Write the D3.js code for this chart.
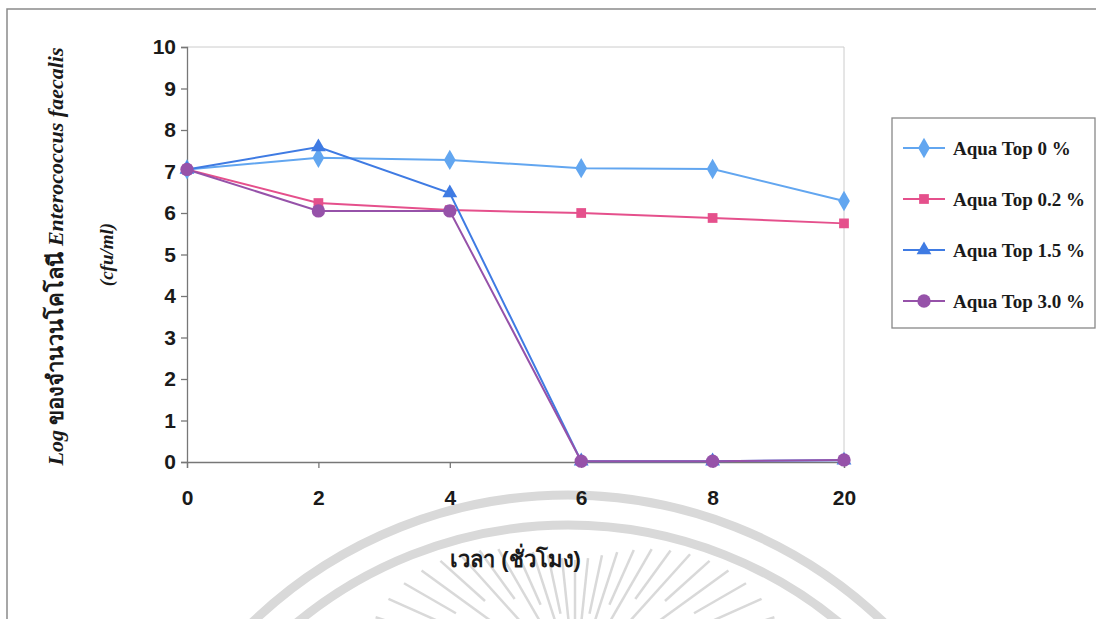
<!DOCTYPE html>
<html>
<head>
<meta charset="utf-8">
<script src="https://cdn.jsdelivr.net/npm/d3@7"></script>
<style>
  body { margin: 0; background: #fff; }
  svg { display: block; }
</style>
</head>
<body>
<svg id="chart" width="1103" height="619"></svg>
<script>
// data
var hours = ["0", "2", "4", "6", "8", "20"];
var top0 = [7.05, 7.33, 7.28, 7.08, 7.06, 6.29];
var top02 = [7.05, 6.24, 6.07, 6.0, 5.88, 5.75];
var top15 = [7.05, 7.59, 6.48, 0.02, 0.02, 0.04];
var top30 = [7.05, 6.05, 6.05, 0.02, 0.02, 0.05];
var seriesNames = ["Aqua Top 0 %", "Aqua Top 0.2 %", "Aqua Top 1.5 %", "Aqua Top 3.0 %"];
var yTicks = [0, 1, 2, 3, 4, 5, 6, 7, 8, 9, 10];

var margin = { top: 47, left: 187, right: 259, bottom: 157 },
    width = 1103 - margin.left - margin.right,
    height = 619 - margin.top - margin.bottom;

var colors = ["#62a6f0", "#e5508c", "#3f7be3", "#9652a9"],
    symbols = [d3.symbolDiamond, d3.symbolSquare, d3.symbolTriangle, d3.symbolCircle],
    symSize = [120, 95, 95, 140];

var series = [top0, top02, top15, top30].map(function(v, i) {
    return { name: seriesNames[i], values: v, index: i };
});

var svg = d3.select("#chart");

// faint scanned seal watermark
var wm = svg.append("g").attr("fill", "none").attr("stroke", "#d9d9d9");
[455, 425].forEach(function(r) {
    wm.append("circle").attr("cx", 568).attr("cy", 950).attr("r", r).attr("stroke-width", 9);
});
d3.range(-162, -17, 6).forEach(function(a, k) {
    var rad = a * Math.PI / 180,
        r1 = 122 + 95 * Math.pow(Math.abs(Math.cos(rad)), 1.6),
        r0 = r1 - (k % 2 ? 95 : 60);
    wm.append("line")
        .attr("x1", 575 + r0 * Math.cos(rad)).attr("y1", 682 + r0 * Math.sin(rad))
        .attr("x2", 575 + r1 * Math.cos(rad)).attr("y2", 682 + r1 * Math.sin(rad))
        .attr("stroke-width", 2.5);
});

// outer chart frame
svg.append("path")
    .attr("d", "M7,625 L7,9 L1096,9")
    .attr("fill", "none").attr("stroke", "#8a8a8a").attr("stroke-width", 1.5);

var g = svg.append("g").attr("transform", "translate(" + margin.left + "," + margin.top + ")");

var x = d3.scalePoint().domain(hours).range([0, width]);
var y = d3.scaleLinear().domain([0, 10]).range([height, 0]);

// plot area border (top / right)
g.append("path")
    .attr("d", "M0,0 H" + width + " V" + height)
    .attr("fill", "none").attr("stroke", "#cccccc").attr("stroke-width", 1);

var yAxis = g.append("g")
    .call(d3.axisLeft(y).tickValues(yTicks).tickSize(6).tickPadding(5));
yAxis.selectAll("text")
    .attr("font-family", "Liberation Sans, Arial, sans-serif")
    .attr("font-weight", "bold").attr("font-size", 21).attr("fill", "#1a1a1a");

var xAxis = g.append("g").attr("transform", "translate(0," + height + ")")
    .call(d3.axisBottom(x).tickSize(6).tickPadding(22));
xAxis.selectAll("text")
    .attr("font-family", "Liberation Sans Narrow, Arial Narrow, sans-serif")
    .attr("font-weight", "bold").attr("font-size", 21).attr("fill", "#1a1a1a");

g.selectAll(".domain, .tick line").attr("stroke", "#777").attr("stroke-width", 1.3);

// lines
var line = d3.line()
    .x(function(d, i) { return x(hours[i]); })
    .y(function(d) { return y(d); });

g.selectAll(".series")
    .data(series)
    .enter().append("path")
    .attr("class", "series")
    .attr("d", function(d) { return line(d.values); })
    .attr("fill", "none")
    .attr("stroke", function(d) { return colors[d.index]; })
    .attr("stroke-width", 2);

series.forEach(function(s) {
    g.selectAll(".pt" + s.index)
        .data(s.values)
        .enter().append("path")
        .attr("class", "pt" + s.index)
        .attr("transform", function(d, i) { return "translate(" + x(hours[i]) + "," + y(d) + ")"; })
        .attr("d", d3.symbol().type(symbols[s.index]).size(symSize[s.index]))
        .attr("fill", colors[s.index]);
});

// axis titles
var yt = svg.append("text")
    .attr("transform", "translate(63," + (margin.top + height / 2 + 2) + ") rotate(-90)")
    .attr("text-anchor", "middle")
    .attr("font-family", "Liberation Serif, Times New Roman, serif")
    .attr("font-weight", "bold").attr("font-size", 22).attr("fill", "#1a1a1a");
yt.append("tspan").attr("font-style", "italic").text("Log ");
yt.append("tspan").text("ของจำนวนโคโลนี  ");
yt.append("tspan").attr("font-style", "italic").text("Enterococcus faecalis");

svg.append("text")
    .attr("transform", "translate(113," + (margin.top + height / 2) + ") rotate(-90)")
    .attr("text-anchor", "middle")
    .attr("font-family", "Liberation Serif, Times New Roman, serif")
    .attr("font-weight", "bold").attr("font-style", "italic")
    .attr("font-size", 19).attr("fill", "#1a1a1a")
    .text("(cfu/ml)");

svg.append("text")
    .attr("x", margin.left + width / 2).attr("y", 567)
    .attr("text-anchor", "middle")
    .attr("font-family", "Liberation Sans Narrow, sans-serif")
    .attr("font-weight", "bold").attr("font-size", 22).attr("fill", "#1a1a1a")
    .text("เวลา (ชั่วโมง)");

// legend
var legend = svg.append("g");
legend.append("rect")
    .attr("x", 892).attr("y", 118).attr("width", 203).attr("height", 210)
    .attr("fill", "#fff").attr("stroke", "#888").attr("stroke-width", 1.3);

var items = legend.selectAll(".item")
    .data(series)
    .enter().append("g")
    .attr("class", "item")
    .attr("transform", function(d, i) { return "translate(903," + (148 + i * 51) + ")"; });

items.append("line")
    .attr("x1", 0).attr("x2", 42)
    .attr("stroke", function(d) { return colors[d.index]; })
    .attr("stroke-width", 2);
items.append("path")
    .attr("transform", "translate(21,0)")
    .attr("d", function(d) { return d3.symbol().type(symbols[d.index]).size(symSize[d.index])(); })
    .attr("fill", function(d) { return colors[d.index]; });
items.append("text")
    .attr("x", 50).attr("dy", "0.35em")
    .attr("font-family", "Liberation Serif, Times New Roman, serif")
    .attr("font-weight", "bold").attr("font-size", 19).attr("fill", "#1a1a1a")
    .text(function(d) { return d.name; });
</script>
</body>
</html>
